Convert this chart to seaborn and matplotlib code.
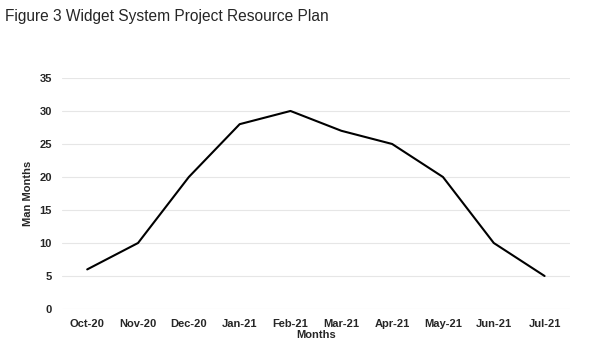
import matplotlib
matplotlib.use("Agg")
import matplotlib.pyplot as plt
import seaborn as sns
import pandas as pd

# Chart data
months = ['Oct-20', 'Nov-20', 'Dec-20', 'Jan-21', 'Feb-21',
          'Mar-21', 'Apr-21', 'May-21', 'Jun-21', 'Jul-21']
man_months = [6, 10, 20, 28, 30, 27, 25, 20, 10, 5]
y_ticks = [0, 5, 10, 15, 20, 25, 30, 35]

df = pd.DataFrame({'Months': months, 'Man Months': man_months})

sns.set_theme(style='white')
plt.rcParams['font.family'] = ['Liberation Sans', 'DejaVu Sans']

fig = plt.figure(figsize=(6, 3.56), dpi=100)
ax = fig.add_axes([0.103, 0.132, 0.847, 0.649])

sns.lineplot(data=df, x='Months', y='Man Months', color='black',
             linewidth=1.5, sort=False, ax=ax)

ax.set_xlim(-0.5, len(months) - 0.5)
ax.set_ylim(0, 35)
ax.set_yticks(y_ticks)
ax.grid(axis='y', color='#e6e6e6', linewidth=0.8)
ax.set_axisbelow(True)
for s in ax.spines.values():
    s.set_visible(False)

ax.tick_params(axis='both', length=0, labelsize=8, pad=7)
for lbl in ax.get_xticklabels() + ax.get_yticklabels():
    lbl.set_fontweight('bold')

ax.set_xlabel('Months', fontsize=8, fontweight='bold', labelpad=1)
ax.set_ylabel('Man Months', fontsize=8, fontweight='bold', labelpad=5)

fig.text(0.008, 0.955, 'Figure 3 Widget System Project Resource Plan',
         fontsize=11.2, ha='left', va='center')

fig.savefig('out.png', dpi=100)
